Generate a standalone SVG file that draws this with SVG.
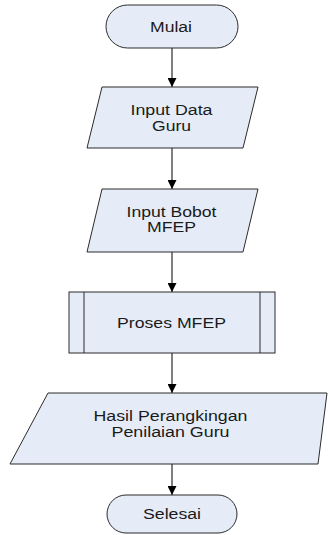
<svg xmlns="http://www.w3.org/2000/svg" width="328" height="535" viewBox="0 0 328 535">
<style>
.s{fill:#e6ecf7;stroke:#2b2b2b;stroke-width:1}
.t{font-family:"Liberation Sans",Arial,sans-serif;font-size:14px;fill:#1a1a1a;text-anchor:middle}
.c{stroke:#000;stroke-width:1;fill:none;marker-end:url(#ah)}
</style>
<defs>
<marker id="ah" viewBox="0 0 10 10" refX="10" refY="5" markerWidth="9" markerHeight="9" markerUnits="userSpaceOnUse" orient="auto">
<path d="M0,0 L10,5 L0,10 Z" fill="#000"/>
</marker>
</defs>
<rect width="328" height="535" fill="#fff"/>
<g id="connectors">
<line class="c" x1="172" y1="48" x2="172" y2="87"/>
<line class="c" x1="172" y1="148" x2="172" y2="189"/>
<line class="c" x1="172" y1="252" x2="172" y2="292"/>
<line class="c" x1="172" y1="353" x2="172" y2="393"/>
<line class="c" x1="172" y1="464" x2="172" y2="495"/>
</g>
<g id="mulai">
<rect class="s" x="106" y="5" width="132" height="43" rx="21.5"/>
<text class="t" x="171" y="31.5" textLength="42" lengthAdjust="spacingAndGlyphs">Mulai</text>
</g>
<g id="input-data-guru">
<polygon class="s" points="102,87 258,87 243,148 87,148"/>
<text class="t" x="171.5" y="114.5" textLength="82" lengthAdjust="spacingAndGlyphs">Input Data</text>
<text class="t" x="171.5" y="130.5" textLength="39" lengthAdjust="spacingAndGlyphs">Guru</text>
</g>
<g id="input-bobot">
<polygon class="s" points="102,189 258,189 243,252 87,252"/>
<text class="t" x="171.5" y="216.5" textLength="90" lengthAdjust="spacingAndGlyphs">Input Bobot</text>
<text class="t" x="171.5" y="232" textLength="49" lengthAdjust="spacingAndGlyphs">MFEP</text>
</g>
<g id="proses-mfep">
<rect class="s" x="69" y="292" width="206" height="61"/>
<line x1="84" y1="292" x2="84" y2="353" stroke="#2b2b2b" stroke-width="1"/>
<line x1="260" y1="292" x2="260" y2="353" stroke="#2b2b2b" stroke-width="1"/>
<text class="t" x="171.5" y="327.5" textLength="109" lengthAdjust="spacingAndGlyphs">Proses MFEP</text>
</g>
<g id="hasil">
<polygon class="s" points="48,393 327,393 318,464 10,464"/>
<text class="t" x="170.5" y="421" textLength="154" lengthAdjust="spacingAndGlyphs">Hasil Perangkingan</text>
<text class="t" x="170.5" y="437" textLength="118" lengthAdjust="spacingAndGlyphs">Penilaian Guru</text>
</g>
<g id="selesai">
<rect class="s" x="107" y="495" width="130" height="38" rx="19"/>
<text class="t" x="172" y="518.5" textLength="58" lengthAdjust="spacingAndGlyphs">Selesai</text>
</g>
</svg>
